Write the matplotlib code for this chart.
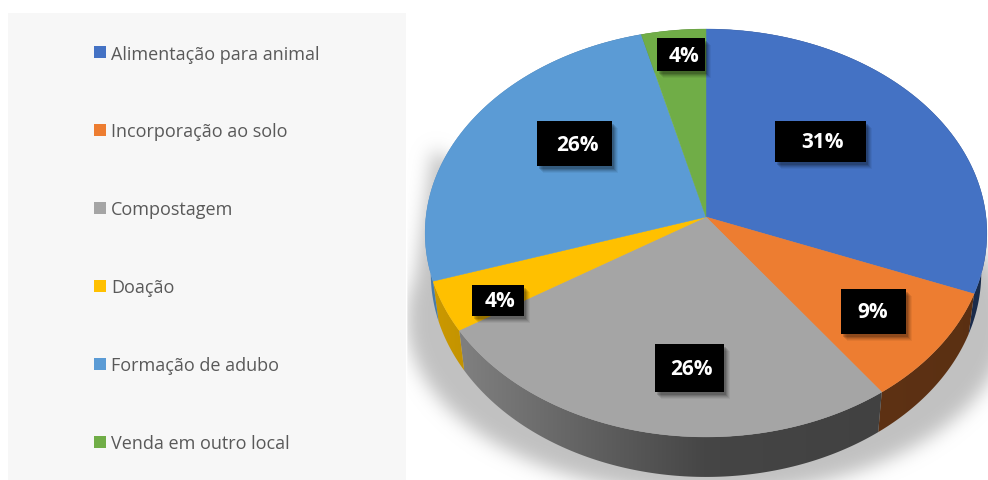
import numpy as np
import matplotlib
matplotlib.use("Agg")
import matplotlib.pyplot as plt
from matplotlib.colors import to_rgb
from matplotlib.path import Path
from matplotlib.patches import Polygon, Rectangle

categories = ["Alimentação para animal", "Incorporação ao solo", "Compostagem",
              "Doação", "Formação de adubo", "Venda em outro local"]
values = [31, 9, 26, 4, 26, 4]
colors = ["#4472c4", "#ed7d31", "#a5a5a5", "#ffc000", "#5b9bd5", "#70ad47"]

# label boxes x0, x1, y0, y1 and text centres, in pixels
label_boxes = [(775, 866, 122, 163), (841, 906, 290, 335), (655, 724, 345, 393),
               (472, 524, 286, 317), (537, 612, 122, 167), (657, 705, 39, 72)]
label_text = [(822, 143), (873, 313), (691, 370), (500, 302), (577, 146), (684, 57)]

W, H = 988, 481
CX, CY = 706, 218
RX, RY, TILT = 280, 202.7, 0.0784
DEPTH = 40

plt.rcParams["font.family"] = ["Open Sans", "DejaVu Sans"]
fig = plt.figure(figsize=(W / 100, H / 100), dpi=100)
ax = fig.add_axes([0, 0, 1, 1])
ax.axis("off")


def rim(theta, lower=False):
    # theta clockwise from 12 o'clock, projected with a little perspective
    u, v = np.sin(theta), np.cos(theta)
    w = 1 + TILT * v
    x, y = RX * u / w, RY * v / w
    if lower:
        return CX + 0.98 * x, CY - y + DEPTH
    return CX + x, CY - y


def blur(img, sigma):
    n = int(3 * sigma)
    k = np.exp(-0.5 * (np.arange(-n, n + 1) / sigma) ** 2)
    k /= k.sum()
    img = np.apply_along_axis(lambda r: np.convolve(r, k, mode="same"), 0, img)
    return np.apply_along_axis(lambda r: np.convolve(r, k, mode="same"), 1, img)


# panel behind the legend
ax.add_patch(Rectangle((8, 14), 398, H - 14, fc="#f7f7f7", ec="none", zorder=0))

# soft shadow below the disc: an ellipse plus a wedge up the left side
pad = 60
yy, xx = np.mgrid[-pad:H + pad, -pad:W + pad]
ellipse = ((xx - 706) / 300.0) ** 2 + ((yy - 320) / 175.0) ** 2 < 1
wedge = Path([(432, 150), (407, 335), (720, 335)]).contains_points(
    np.column_stack([xx.ravel(), yy.ravel()])).reshape(xx.shape)
shadow = blur((ellipse | wedge).astype(float), 9)[pad:pad + H, pad:pad + W]
rgba = np.zeros((H, W, 4))
rgba[..., :3] = 0.76
rgba[..., 3] = shadow
rgba[:, :407, 3] = 0
ax.imshow(rgba, extent=(0, W, H, 0), aspect="auto", zorder=1)

edges = np.cumsum([0] + values) / sum(values) * 2 * np.pi

# side wall, shading runs from light on the left to dark past the middle
shade = np.interp(np.arange(W), [430, 470, 706, 990], [0.8, 0.76, 0.42, 0.38])
for i, col in enumerate(colors):
    t = np.linspace(edges[i], edges[i + 1], 120)
    xs, ys = rim(t)
    xl, yl = rim(t, lower=True)
    wall = Polygon(np.column_stack([np.r_[xs, xl[::-1]], np.r_[ys, yl[::-1]]]),
                   fc="none", ec="none", zorder=2)
    ax.add_patch(wall)
    grad = shade[None, :, None] * np.array(to_rgb(col))[None, None, :]
    im = ax.imshow(grad, extent=(0, W, H, 0), aspect="auto", zorder=2)
    im.set_clip_path(wall)

# top face
for i, col in enumerate(colors):
    t = np.linspace(edges[i], edges[i + 1], 120)
    xs, ys = rim(t)
    pts = np.column_stack([np.r_[CX, xs], np.r_[CY, ys]])
    ax.add_patch(Polygon(pts, fc=col, ec=col, lw=0.3, zorder=3))

# value labels
for (x0, x1, y0, y1), (tx, ty), v in zip(label_boxes, label_text, values):
    for off, al in [(7, 0.05), (6, 0.07), (5, 0.09), (4, 0.12), (3, 0.15)]:
        ax.add_patch(Rectangle((x0 + off - 1, y0 + off), x1 - x0, y1 - y0, fc="black", alpha=al, ec="none", zorder=4))
    ax.add_patch(Rectangle((x0, y0), x1 - x0, y1 - y0, fc="black", ec="none", zorder=5))
    ax.text(tx, ty, f"{v}%", color="white", fontsize=15, fontweight="bold",
            ha="center", va="center", zorder=6)

# legend
for i, (name, col) in enumerate(zip(categories, colors)):
    y = 53 + 78 * i
    ax.add_patch(Rectangle((94, y - 6), 12, 12, fc=col, ec="none", zorder=3))
    ax.text(111, y + 1.5, name, color="#595959", fontsize=13, va="center", ha="left", zorder=3)

ax.set_xlim(0, W)
ax.set_ylim(H, 0)
fig.savefig("out.png", dpi=100)
